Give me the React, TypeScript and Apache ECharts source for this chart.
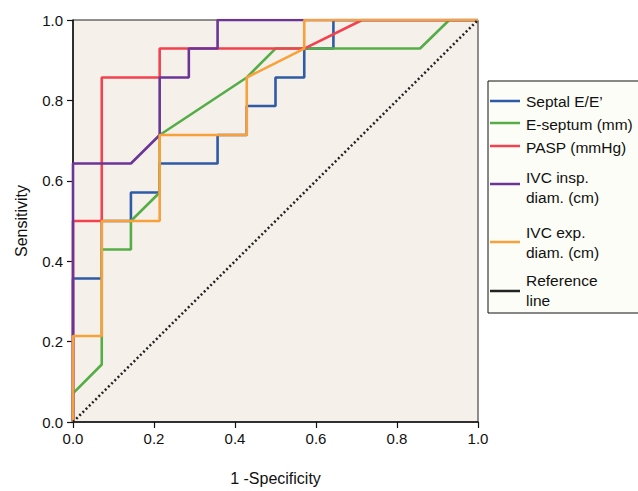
import React, { useEffect, useRef } from "react";
import * as echarts from "echarts";

const xTicks = [0, 0.2, 0.4, 0.6, 0.8, 1.0];
const yTicks = [0, 0.2, 0.4, 0.6, 0.8, 1.0];

const seriesNames = [
  "Septal E/E\u2019",
  "E-septum (mm)",
  "PASP (mmHg)",
  "IVC insp. diam. (cm)",
  "IVC exp. diam. (cm)",
  "Reference line",
];

const septalEE: number[][] = [
  [0, 0], [0, 0.357], [0.071, 0.357], [0.071, 0.5], [0.143, 0.5], [0.143, 0.571],
  [0.214, 0.571], [0.214, 0.643], [0.357, 0.643], [0.357, 0.714], [0.429, 0.714],
  [0.429, 0.786], [0.5, 0.786], [0.5, 0.857], [0.571, 0.857], [0.571, 0.929],
  [0.643, 0.929], [0.643, 1], [1, 1],
];
const eSeptum: number[][] = [
  [0, 0], [0, 0.071], [0.071, 0.143], [0.071, 0.429], [0.143, 0.429], [0.143, 0.5],
  [0.214, 0.571], [0.214, 0.714], [0.429, 0.857], [0.5, 0.929], [0.857, 0.929],
  [0.929, 1], [1, 1],
];
const pasp: number[][] = [
  [0, 0], [0, 0.5], [0.071, 0.5], [0.071, 0.857], [0.214, 0.857], [0.214, 0.929],
  [0.571, 0.929], [0.714, 1], [1, 1],
];
const ivcInsp: number[][] = [
  [0, 0], [0, 0.643], [0.143, 0.643], [0.214, 0.714], [0.214, 0.857], [0.286, 0.857],
  [0.286, 0.929], [0.357, 0.929], [0.357, 1], [1, 1],
];
const ivcExp: number[][] = [
  [0, 0], [0, 0.214], [0.071, 0.214], [0.071, 0.5], [0.214, 0.5], [0.214, 0.714],
  [0.429, 0.714], [0.429, 0.857], [0.571, 0.929], [0.571, 1], [1, 1],
];
const referenceLine: number[][] = [
  [0, 0], [1, 1],
];

const colors = ["#2f5aa6", "#55ad47", "#f2424f", "#6b3597", "#f8a13a", "#222222"];

const FONT = "Liberation Sans, Arial, Helvetica, sans-serif";

export default function App() {
  const ref = useRef<HTMLDivElement>(null);
  useEffect(() => {
    if (!ref.current) return;
    document.body.style.margin = "0";
    const chart = echarts.init(ref.current, undefined, { renderer: "svg" });
    const datasets = [septalEE, eSeptum, pasp, ivcInsp, ivcExp, referenceLine];
    const series = datasets.map((d, i) => ({
      type: "line",
      name: seriesNames[i],
      data: d,
      showSymbol: false,
      symbol: "none",
      lineStyle: {
        color: colors[i],
        width: i === 5 ? 2.5 : 2.6,
        type: i === 5 ? [2, 2.5] : "solid",
      },
      itemStyle: { color: colors[i] },
      z: 2 + i,
    }));

    const legendX = 488;
    const legendY = 81;
    const lineX0 = 490;
    const lineX1 = 520;
    const textX = 526;
    const items = [
      { mark: 101, lines: ["Septal E/E\u2019"], ty: 101 },
      { mark: 123, lines: ["E-septum (mm)"], ty: 124 },
      { mark: 146, lines: ["PASP (mmHg)"], ty: 147 },
      { mark: 184, lines: ["IVC insp.", "diam. (cm)"], ty: 177 },
      { mark: 242, lines: ["IVC exp.", "diam. (cm)"], ty: 232 },
      { mark: 291, lines: ["Reference", "line"], ty: 280 },
    ];
    const graphics: any[] = [
      {
        type: "rect",
        shape: { x: legendX, y: legendY, width: 160, height: 232 },
        style: { fill: "#fdfdf7", stroke: "#111", lineWidth: 1 },
        z: 10,
      },
    ];
    items.forEach((it, i) => {
      graphics.push({
        type: "line",
        shape: { x1: lineX0, y1: it.mark, x2: lineX1, y2: it.mark },
        style: { stroke: colors[i], lineWidth: 2.5 },
        z: 11,
      });
      it.lines.forEach((t, j) => {
        graphics.push({
          type: "text",
          x: textX,
          y: it.ty + j * 20,
          style: {
            text: t,
            fill: "#111",
            font: `15.5px ${FONT}`,
            textVerticalAlign: "middle",
            verticalAlign: "middle",
          },
          z: 11,
        });
      });
    });

    chart.setOption({
      animation: false,
      grid: {
        left: 73,
        top: 20,
        right: 160,
        bottom: 66,
        show: true,
        backgroundColor: "#f5f0ea",
        borderColor: "#222",
        borderWidth: 1,
      },
      xAxis: {
        type: "value",
        min: xTicks[0],
        max: xTicks[xTicks.length - 1],
        interval: 0.2,
        name: "1 -Specificity",
        nameLocation: "middle",
        nameGap: 48,
        nameTextStyle: { fontSize: 16, color: "#111", fontFamily: FONT },
        axisLine: { show: true, onZero: false, lineStyle: { color: "#111", width: 1.5 } },
        axisTick: { show: true, length: 6, lineStyle: { color: "#111", width: 1.2 } },
        axisLabel: {
          fontSize: 15,
          color: "#111",
          fontFamily: FONT,
          margin: 9,
          formatter: (v: number) => v.toFixed(1),
        },
        splitLine: { show: false },
      },
      yAxis: {
        type: "value",
        min: yTicks[0],
        max: yTicks[yTicks.length - 1],
        interval: 0.2,
        name: "Sensitivity",
        nameLocation: "middle",
        nameGap: 44,
        nameTextStyle: { fontSize: 16, color: "#111", fontFamily: FONT },
        axisLine: { show: true, onZero: false, lineStyle: { color: "#111", width: 1.5 } },
        axisTick: { show: true, length: 6, lineStyle: { color: "#111", width: 1.2 } },
        axisLabel: {
          fontSize: 15,
          color: "#111",
          fontFamily: FONT,
          margin: 10,
          formatter: (v: number) => v.toFixed(1),
        },
        splitLine: { show: false },
      },
      series,
      graphic: graphics,
    });
    return () => chart.dispose();
  }, []);
  return <div ref={ref} style={{ width: 638, height: 491 }} />;
}
